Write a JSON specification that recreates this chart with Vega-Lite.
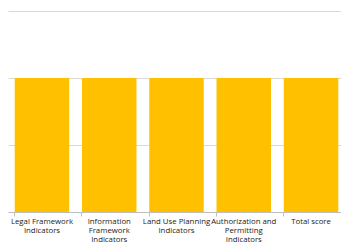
{
  "$schema": "https://vega.github.io/schema/vega-lite/v6.json",
  "width": 337,
  "height": 201,
  "padding": {"left": 8, "top": 11, "right": 0, "bottom": 0},
  "background": "white",
  "data": {
    "values": [
      {"category": "Legal Framework Indicators", "score": 2},
      {"category": "Information Framework Indicators", "score": 2},
      {"category": "Land Use Planning Indicators", "score": 2},
      {"category": "Authorization and Permitting Indicators", "score": 2},
      {"category": "Total score", "score": 2}
    ]
  },
  "mark": {"type": "bar", "color": "#FFC000"},
  "encoding": {
    "x": {
      "field": "category",
      "type": "nominal",
      "sort": null,
      "scale": {"paddingInner": 0.19, "paddingOuter": 0.1},
      "axis": {
        "title": null,
        "labelAngle": 0,
        "bandPosition": 0,
        "domainColor": "#bfbfbf",
        "tickColor": "#bfbfbf",
        "tickSize": 4,
        "labelPadding": 1,
        "labelFont": "Open Sans",
        "labelFontSize": 7.8,
        "labelColor": "#1a1a1a",
        "labelLineHeight": 9.3,
        "labelBaseline": "top",
        "labelLimit": 200,
        "labelExpr": "datum.label == 'Information Framework Indicators' ? ['Information','Framework','Indicators'] : datum.label == 'Authorization and Permitting Indicators' ? ['Authorization and','Permitting','Indicators'] : datum.label == 'Total score' ? 'Total score' : [replace(datum.label,' Indicators',''),'Indicators']"
      }
    },
    "y": {
      "field": "score",
      "type": "quantitative",
      "scale": {"domain": [0, 3], "nice": false},
      "axis": {
        "title": null,
        "labels": false,
        "ticks": false,
        "domain": false,
        "values": [0, 1, 2, 3],
        "gridColor": "#d9d9d9",
        "gridWidth": 1
      }
    }
  },
  "config": {"view": {"stroke": null}}
}
